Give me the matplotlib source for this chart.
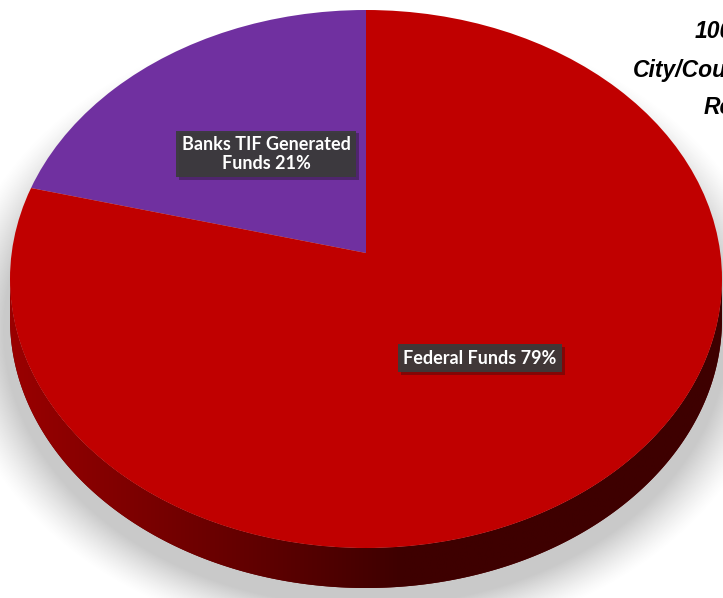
import numpy as np
import matplotlib
matplotlib.use('Agg')
import matplotlib.pyplot as plt
from matplotlib.path import Path
from matplotlib.patches import PathPatch, Circle
from matplotlib.colors import to_rgb
import matplotlib.patheffects as pe

# ---- data ----
labels = ['Banks TIF Generated\nFunds', 'Federal Funds']
values = [21, 79]
colors = ['#7030A0', '#C00000']
title_lines = ['100%', 'City/County', 'Revenue']

W, H = 723, 598
fig = plt.figure(figsize=(W / 100, H / 100), dpi=100)
ax = fig.add_axes([0, 0, 1, 1])

# ellipse geometry (pixels)
cx_px, cy_px, rx_px, ry_px = 366, 279, 356, 269
xlim = (-cx_px / rx_px, (W - cx_px) / rx_px)
ylim = (-(H - cy_px) / ry_px, cy_px / ry_px)
depth = 40 / ry_px
persp = 26 / ry_px   # apparent centre of the tilted pie sits above the ellipse centre

# ---- soft shadow ----
gx = np.linspace(xlim[0], xlim[1], W)
gy = np.linspace(ylim[0], ylim[1], H)
X, Y = np.meshgrid(gx, gy)
r = np.sqrt((X / 1.03) ** 2 + ((Y + depth + 0.04) / 1.04) ** 2)
alpha = 0.55 * np.clip((1.13 - r) / 0.14, 0, 1) ** 1.3
shadow = np.zeros((H, W, 4))
shadow[..., :3] = 0.62
shadow[..., 3] = alpha
ax.imshow(shadow, extent=(xlim[0], xlim[1], ylim[0], ylim[1]), origin='lower',
          aspect='auto', zorder=0, interpolation='bilinear')

# ---- side of the pie (extrusion) ----
th = np.linspace(np.pi, 2 * np.pi, 300)
top = np.column_stack([np.cos(th), np.sin(th)])
bot = np.column_stack([np.cos(th[::-1]), np.sin(th[::-1]) - depth])
verts = np.vstack([top, bot, top[:1]])
side_path = Path(verts, closed=True)
side_patch = PathPatch(side_path, fc='#5a0000', ec='none', zorder=1)
ax.add_patch(side_patch)
c1 = np.array(to_rgb('#9a0000'))
c2 = np.array(to_rgb('#3e0000'))
t = np.clip(np.linspace(0, 1, 400) / 0.55, 0, 1)
grad = (c1[None, :] * (1 - t[:, None]) + c2[None, :] * t[:, None])[None, :, :]
im = ax.imshow(grad, extent=(-1, 1, -1 - depth, 0.1), origin='lower',
               aspect='auto', zorder=2, interpolation='bilinear')
im.set_clip_path(side_patch)

# ---- top face ----
wedges, _ = ax.pie(values, colors=colors, startangle=90, counterclock=True,
                   radius=1.35, center=(0, persp),
                   wedgeprops=dict(linewidth=0))
face = Circle((0, 0), 1, transform=ax.transData, fc='none', ec='none')
ax.add_patch(face)
for w in wedges:
    w.set_zorder(3)
    w.set_clip_on(True)
    w.set_clip_path(face)

ax.set_xlim(*xlim)
ax.set_ylim(*ylim)
ax.set_aspect('auto')
ax.axis('off')

# ---- data labels ----
total = sum(values)
label_pos_px = [(266, 154), (480, 358)]
for lab, v, (px, py) in zip(labels, values, label_pos_px):
    x = (px - cx_px) / rx_px
    y = (cy_px - py) / ry_px
    txt = ax.text(x, y, f"{lab} {v / total * 100:.0f}%", ha='center', va='center',
                  color='white', fontsize=13, fontweight='bold', family='Lato',
                  linespacing=1.15, zorder=5,
                  bbox=dict(boxstyle='square,pad=0.3', fc='#3b3b3b', ec='none',
                            alpha=0.93))
    txt.get_bbox_patch().set_path_effects(
        [pe.SimplePatchShadow(offset=(2, -2), alpha=0.35), pe.Normal()])

# ---- title (partially off-canvas, as in the reference) ----
title_x_px = [695, 633, 704]
title_y_px = [31, 70, 107]
for s, px, py in zip(title_lines, title_x_px, title_y_px):
    fig.text(px / W, 1 - py / H, s, ha='left', va='center', fontsize=16.5,
             fontweight='bold', fontstyle='italic',
             family=['Liberation Sans Narrow', 'Liberation Sans'], color='black')

fig.savefig('out.png', dpi=100, facecolor='white')
